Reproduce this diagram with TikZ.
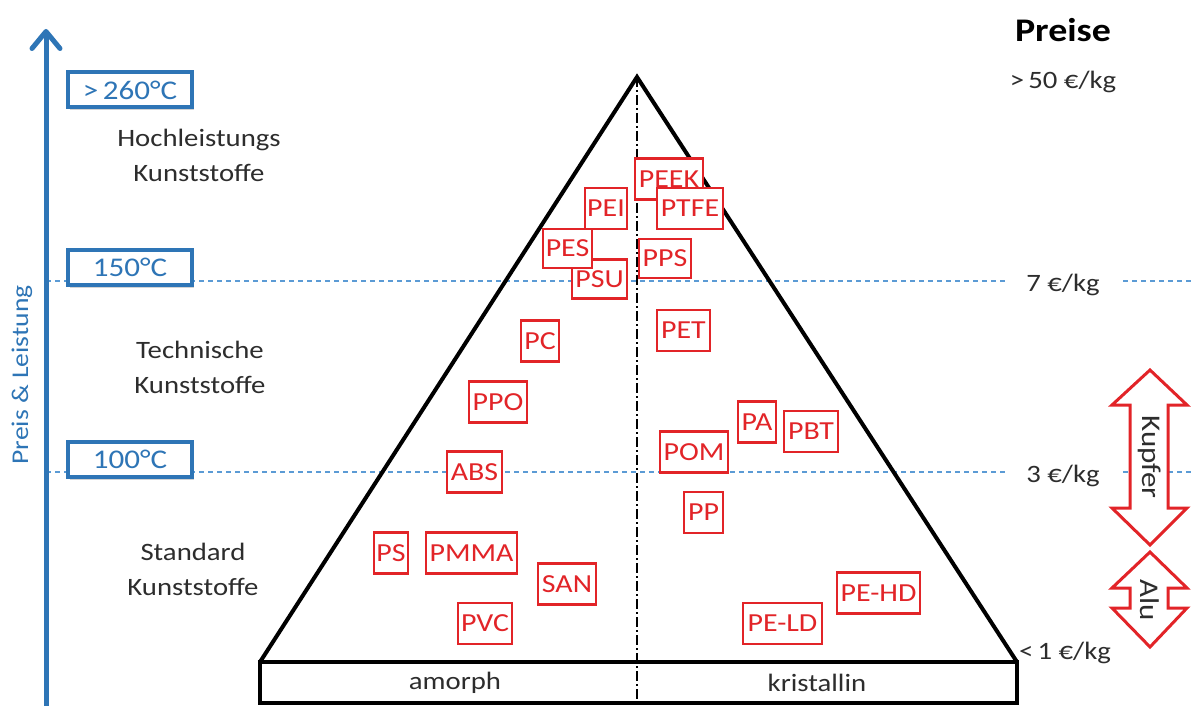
\documentclass[tikz,border=0pt]{standalone}
\usepackage{fontspec}
\setmainfont{Carlito}[FakeStretch=1.15]
\usetikzlibrary{arrows.meta,shadows}
\definecolor{axisblue}{RGB}{46,117,182}
\definecolor{lineblue}{RGB}{91,155,213}
\definecolor{lblred}{RGB}{226,36,40}
\definecolor{txtgray}{RGB}{45,45,45}
\tikzset{
  lbl/.style={draw=lblred, fill=white, line width=2.5pt, text=lblred, inner sep=0pt,
    minimum height=41pt, font=\fontsize{26}{30}\selectfont},
  tbox/.style={draw=axisblue, fill=white, line width=4pt, text=axisblue, inner sep=0pt,
    minimum width=124pt, minimum height=35pt, font=\fontsize{27}{30}\selectfont,
    drop shadow={shadow xshift=2pt, shadow yshift=-3pt, opacity=0.35, fill=gray}},
  cat/.style={text=txtgray, align=center, font=\fontsize{25}{35}\selectfont},
  price/.style={text=txtgray, font=\fontsize{25}{30}\selectfont},
  templine/.style={draw=lineblue, line width=1.5pt, dash pattern=on 5pt off 4pt},
  redarrow/.style={draw=lblred, fill=white, line width=3pt, line join=miter},
}
\begin{document}
\begin{tikzpicture}[x=1pt,y=-1pt]
\useasboundingbox (0,0) rectangle (1195,706);

% temperature dashed lines
\coordinate (l150a) at (46,281);
\coordinate (l150b) at (1008,281);
\coordinate (l150c) at (1123,281);
\coordinate (l150d) at (1195,281);
\coordinate (l100a) at (46,472);
\coordinate (l100b) at (1008,472);
\coordinate (l100c) at (1123,472);
\coordinate (l100d) at (1195,472);
\path[templine] (l150a) -- (l150b) (l150c) -- (l150d);
\path[templine] (l100a) -- (l100b) (l100c) -- (l100d);

% axis arrow
\coordinate (axb) at (46,706);
\coordinate (axt) at (46,29);
\draw[axisblue, line width=5pt, -{Straight Barb[length=17pt,width=28pt,line cap=round,line join=round]}] (axb) -- (axt);
\node[rotate=90, text=axisblue, font=\fontsize{24}{30}\selectfont] (pl) at (22,375) {Preis \& Leistung};

% temperature boxes
\node[tbox] (t260) at (130,90) {>\,260°C};
\node[tbox] (t150) at (130,267) {150°C};
\node[tbox] (t100) at (130,459) {100°C};

% category labels
\node[cat] (hoch) at (199,155) {Hochleistungs\\Kunststoffe};
\node[cat] (tech) at (200,367) {Technische\\Kunststoffe};
\node[cat] (stan) at (193,569) {Standard\\Kunststoffe};

% pyramid
\coordinate (apex) at (637,77);
\coordinate (bl) at (260,662);
\coordinate (br) at (1017,662);
\coordinate (rbl) at (260,703);
\coordinate (rbr) at (1017,703);
\coordinate (mbot) at (637,703);
\draw[black, line width=4pt, line join=miter] (bl) -- (apex) -- (br);
\draw[black, line width=4pt] (bl) rectangle (rbr);
\draw[black, line width=1.5pt, dash pattern=on 10pt off 3pt on 2pt off 3pt] (apex) -- (mbot);
\node[text=txtgray, font=\fontsize{25}{30}\selectfont] (amorph) at (455,683) {amorph};
\node[text=txtgray, font=\fontsize{25}{30}\selectfont] (krist) at (817,683) {kristallin};

% plastic labels
\node[lbl, minimum width=68pt] (peek) at (669,179) {PEEK};
\node[lbl, minimum width=66pt] (ptfe) at (690,208.5) {PTFE};
\node[lbl, minimum width=42pt] (pei) at (606,208.5) {PEI};
\node[lbl, minimum width=55pt, minimum height=39pt] (psu) at (599.5,279) {PSU};
\node[lbl, minimum width=49pt, minimum height=39pt] (pes) at (567.5,248.5) {PES};
\node[lbl, minimum width=52pt, minimum height=39pt] (pps) at (665,258.5) {PPS};
\node[lbl, minimum width=38pt] (pc) at (540,341) {PC};
\node[lbl, minimum width=53pt] (pet) at (683.5,330.5) {PET};
\node[lbl, minimum width=58pt] (ppo) at (498,402) {PPO};
\node[lbl, minimum width=38pt] (pa) at (757,422) {PA};
\node[lbl, minimum width=54pt] (pbt) at (811,431.5) {PBT};
\node[lbl, minimum width=68pt] (pom) at (694,452) {POM};
\node[lbl, minimum width=55pt] (abs) at (474.5,472) {ABS};
\node[lbl, minimum width=39pt] (pp) at (703.5,512.5) {PP};
\node[lbl, minimum width=34pt] (ps) at (391,553) {PS};
\node[lbl, minimum width=91pt] (pmma) at (471.5,553) {PMMA};
\node[lbl, minimum width=58pt] (san) at (567,584) {SAN};
\node[lbl, minimum width=54pt] (pvc) at (485,623.5) {PVC};
\node[lbl, minimum width=79pt] (peld) at (782.5,623.5) {PE-LD};
\node[lbl, minimum width=83pt] (pehd) at (878.5,593) {PE-HD};

% prices
\node[text=black, font=\fontsize{33}{36}\bfseries\selectfont] (preise) at (1063,30) {Preise};
\node[price] (p50) at (1063,82) {>\,50 €/kg};
\node[price] (p7) at (1063,285) {7 €/kg};
\node[price] (p3) at (1063,476) {3 €/kg};
\node[price] (p1) at (1065,653) {<\,1 €/kg};

% Kupfer arrow
\path[redarrow] (1150,370) -- (1187,405) -- (1168,405) -- (1168,508) -- (1187,508)
  -- (1150,545) -- (1112,508) -- (1130,508) -- (1130,405) -- (1112,405) -- cycle;
\node[rotate=-90, text=txtgray, font=\fontsize{27}{30}\selectfont] (kupfer) at (1150,457) {Kupfer};
% Alu arrow
\path[redarrow] (1150,552) -- (1187,588) -- (1168,588) -- (1168,608) -- (1187,608)
  -- (1150,647) -- (1112,608) -- (1130,608) -- (1130,588) -- (1112,588) -- cycle;
\node[rotate=-90, text=txtgray, font=\fontsize{27}{30}\selectfont] (alu) at (1150,600) {Alu};
\end{tikzpicture}
\end{document}
